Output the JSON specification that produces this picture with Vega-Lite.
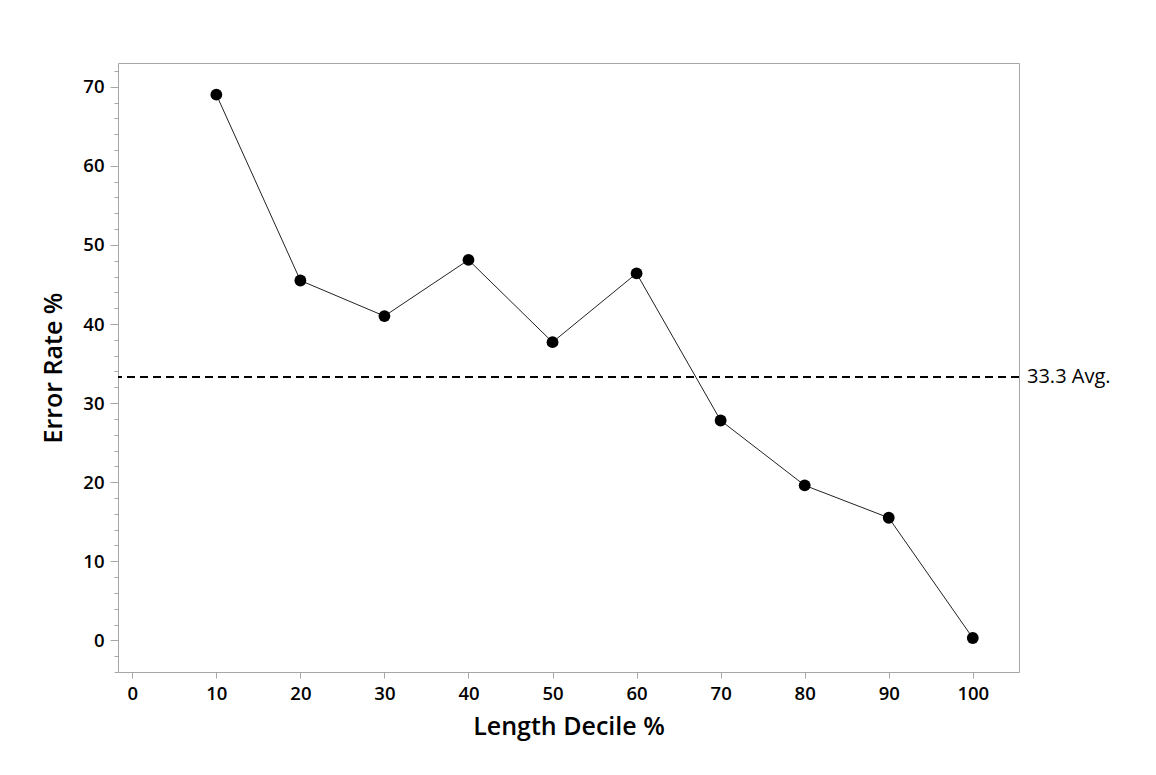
{
  "$schema": "https://vega.github.io/schema/vega-lite/v6.json",
  "width": 901,
  "height": 609,
  "autosize": {"type": "none"},
  "padding": {"left": 118, "top": 63, "right": 137, "bottom": 103},
  "background": "white",
  "config": {
    "view": {"stroke": "#a6a6a6", "strokeWidth": 1},
    "font": "Open Sans",
    "axis": {
      "domain": false,
      "grid": false,
      "tickColor": "#a6a6a6",
      "labelFont": "Open Sans",
      "labelFontWeight": 600,
      "labelFontSize": 18.5,
      "labelColor": "black",
      "labelOverlap": false,
      "labelFlush": false,
      "titleFont": "Open Sans",
      "titleFontWeight": 600,
      "titleFontSize": 25,
      "titleColor": "black"
    }
  },
  "datasets": {
    "series": [
      {"decile": 10, "rate": 69.0},
      {"decile": 20, "rate": 45.5},
      {"decile": 30, "rate": 41.0},
      {"decile": 40, "rate": 48.1},
      {"decile": 50, "rate": 37.7},
      {"decile": 60, "rate": 46.4},
      {"decile": 70, "rate": 27.8},
      {"decile": 80, "rate": 19.6},
      {"decile": 90, "rate": 15.5},
      {"decile": 100, "rate": 0.3}
    ],
    "avg": [{"rate": 33.3, "label": "33.3 Avg.", "decile": 105.5}]
  },
  "layer": [
    {
      "data": {"name": "series"},
      "mark": {"type": "line", "color": "#222222", "strokeWidth": 1},
      "encoding": {
        "x": {
          "field": "decile", "type": "quantitative",
          "scale": {"domain": [-1.7, 105.5], "nice": false, "zero": false},
          "axis": {
            "title": "Length Decile %",
            "values": [0, 10, 20, 30, 40, 50, 60, 70, 80, 90, 100],
            "tickCount": 200,
            "format": "d",
            "tickSize": 6,
            "labelPadding": 6,
            "titlePadding": 12
          }
        },
        "y": {
          "field": "rate", "type": "quantitative",
          "scale": {"domain": [-4, 73], "nice": false, "zero": false},
          "axis": {
            "title": "Error Rate %",
            "values": [-4, -2, 0, 2, 4, 6, 8, 10, 12, 14, 16, 18, 20, 22, 24, 26, 28, 30, 32, 34, 36, 38, 40, 42, 44, 46, 48, 50, 52, 54, 56, 58, 60, 62, 64, 66, 68, 70, 72],
            "tickCount": 200,
            "format": "d",
            "tickSize": {"condition": {"test": "datum.value % 10 === 0", "value": 8}, "value": 4},
            "labelExpr": "datum.value % 10 === 0 ? datum.label : ''",
            "labelPadding": 6,
            "titlePadding": 16
          }
        }
      }
    },
    {
      "data": {"name": "series"},
      "mark": {"type": "point", "filled": true, "color": "black", "size": 140, "opacity": 1},
      "encoding": {
        "x": {"field": "decile", "type": "quantitative"},
        "y": {"field": "rate", "type": "quantitative"}
      }
    },
    {
      "data": {"name": "avg"},
      "mark": {"type": "rule", "color": "black", "strokeWidth": 2, "strokeDash": [8, 5]},
      "encoding": {
        "y": {"field": "rate", "type": "quantitative"}
      }
    },
    {
      "data": {"name": "avg"},
      "mark": {"type": "text", "align": "left", "baseline": "middle", "dx": 8, "fontSize": 20, "font": "Open Sans", "color": "black", "clip": false},
      "encoding": {
        "x": {"field": "decile", "type": "quantitative"},
        "y": {"field": "rate", "type": "quantitative"},
        "text": {"field": "label"}
      }
    }
  ]
}
